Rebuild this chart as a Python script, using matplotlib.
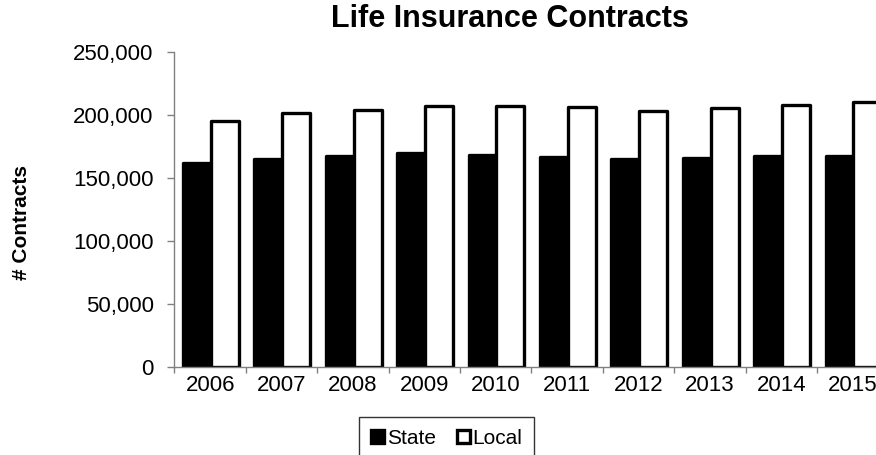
import numpy as np
import matplotlib.pyplot as plt
from matplotlib.ticker import FuncFormatter

plt.rcParams['font.family'] = ['Liberation Sans', 'DejaVu Sans']

# contracts per year
years = ['2006', '2007', '2008', '2009', '2010', '2011', '2012', '2013', '2014', '2015']
state = [161400, 164900, 167200, 169300, 168000, 166100, 164500, 165300, 166900, 166900]
local = [194900, 201300, 203600, 206800, 206600, 205800, 203100, 205000, 207400, 209700]

axis_grey = '#808080'

fig = plt.figure(figsize=(8.76, 4.55), dpi=100)
# plot area runs a little past the right edge of the figure
ax = fig.add_axes([0.1992, 0.1934, 0.815, 0.6934])

x = np.arange(len(years))
w = 0.39
ax.bar(x - 0.185, state, w, color='black', edgecolor='black', linewidth=2.4,
       joinstyle='round', label='State', zorder=2)
ax.bar(x + 0.205, local, w, color='white', edgecolor='black', linewidth=2.4,
       joinstyle='round', label='Local', zorder=3)

ax.set_xlim(-0.5, len(years) - 0.5)
ax.set_ylim(0, 250000)
ax.set_yticks(np.arange(0, 250001, 50000))
ax.yaxis.set_major_formatter(FuncFormatter(lambda v, p: f'{int(v):,}'))

# year labels centred, tick marks between the groups
ax.set_xticks(x)
ax.set_xticklabels(years)
ax.set_xticks(np.arange(len(years) + 1) - 0.5, minor=True)
ax.tick_params(axis='x', which='major', length=0, pad=6, labelsize=16)
ax.tick_params(axis='x', which='minor', length=4.5, width=1, color=axis_grey)
ax.tick_params(axis='y', length=5, width=1, color=axis_grey, pad=10, labelsize=16)

for side in ('top', 'right'):
    ax.spines[side].set_visible(False)
for side in ('left', 'bottom'):
    ax.spines[side].set_color(axis_grey)
    ax.spines[side].set_linewidth(1)
    ax.spines[side].set_zorder(4)

fig.text(510 / 876, 1 - 27 / 455, 'Life Insurance Contracts', ha='center',
         va='baseline', fontsize=22, fontweight='bold')
fig.text(21.5 / 876, 1 - 222 / 455, '# Contracts', rotation=90, ha='center',
         va='center', fontsize=15, fontweight='bold')

leg = fig.legend(loc='upper left', bbox_to_anchor=(359.3 / 876, 1 - 417.3 / 455),
                 borderaxespad=0, ncol=2, fontsize=15, handlelength=0.62,
                 handleheight=0.62, handletextpad=0.15, columnspacing=1.0,
                 borderpad=0.55, fancybox=False, framealpha=1, edgecolor='#333333')
leg.get_frame().set_linewidth(1)

plt.savefig('out.png', dpi=100)
